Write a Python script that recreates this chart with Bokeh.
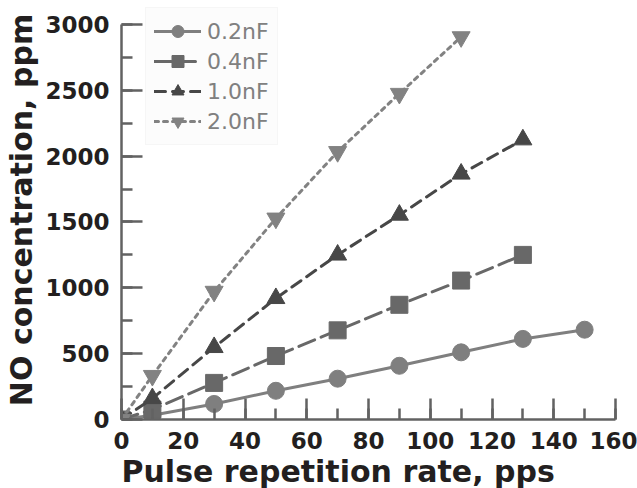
from bokeh.plotting import figure
from bokeh.models import Range1d, Legend, LegendItem, SingleIntervalTicker, Title
from bokeh.embed import file_html
from bokeh.resources import INLINE

# ---- data ----
x_02 = [0, 10, 30, 50, 70, 90, 110, 130, 150]
y_02 = [0, 32, 118, 218, 310, 408, 510, 612, 682]

x_04 = [0, 10, 30, 50, 70, 90, 110, 130]
y_04 = [0, 76, 278, 482, 677, 871, 1055, 1250]

x_10 = [0, 10, 30, 50, 70, 90, 110, 130]
y_10 = [0, 160, 548, 920, 1250, 1553, 1865, 2125]

x_20 = [0, 10, 30, 50, 70, 90, 110]
y_20 = [0, 333, 972, 1528, 2033, 2475, 2905]

labels = ["0.2nF", "0.4nF", "1.0nF", "2.0nF"]
x_ticks_step = 20
y_ticks_step = 500
x_max = 160
y_max = 3000

FONT = "DejaVu Sans"
INK = "#231f20"
AXIS = "#626262"

BOTTOM = 68
FRAME_H = 488 - BOTTOM
TOP_GAP = 24  # pixels between canvas top and the 3000 tick

p = figure(width=637, height=488, output_backend="svg", toolbar_location=None,
           x_range=Range1d(0, x_max),
           y_range=Range1d(0, y_max * FRAME_H / (FRAME_H - TOP_GAP)),
           min_border_left=121, min_border_right=22, min_border_top=0,
           min_border_bottom=BOTTOM)
p.outline_line_color = None
p.xgrid.visible = False
p.ygrid.visible = False

series = [
    (x_02, y_02, "circle", "#7f7f7f", "solid", 17),
    (x_04, y_04, "square", "#686868", "17 7", 17),
    (x_10, y_10, "triangle", "#474747", "11 7", 18),
    (x_20, y_20, "inverted_triangle", "#828282", "4 5", 18),
]

items = []
for (xs, ys, mk, col, dash, sz), lab in zip(series, labels):
    ln = p.line(xs, ys, line_color=col, line_width=3, line_dash=dash, line_cap="round")
    sc = p.scatter(xs, ys, marker=mk, size=sz, fill_color=col, line_color=col)
    items.append(LegendItem(label=lab, renderers=[ln, sc]))

legend = Legend(items=items, location=(24, FRAME_H - 146),
                background_fill_color="#fcfcfc", border_line_color="#f0f0f0",
                label_text_font=FONT, label_text_font_size="22px",
                label_text_color="#808080", glyph_width=47, glyph_height=30,
                label_height=30, spacing=0, padding=8, label_standoff=6,
                margin=0)
p.add_layout(legend)

for ax in (p.xaxis[0], p.yaxis[0]):
    ax.axis_line_color = AXIS
    ax.axis_line_width = 2.5
    ax.major_tick_line_color = AXIS
    ax.minor_tick_line_color = AXIS
    ax.major_tick_line_width = 2.5
    ax.minor_tick_line_width = 2.5
    ax.major_tick_in = 21
    ax.major_tick_out = 0
    ax.minor_tick_in = 11
    ax.minor_tick_out = 0
    ax.major_label_text_font = FONT
    ax.major_label_text_font_style = "bold"
    ax.major_label_text_color = INK
    ax.axis_label_text_font = FONT
    ax.axis_label_text_font_style = "bold"
    ax.axis_label_text_font_size = "30px"
    ax.axis_label_text_color = INK

p.xaxis[0].major_label_text_font_size = "23px"
p.yaxis[0].major_label_text_font_size = "23px"
p.xaxis[0].bounds = (0, x_max)
p.yaxis[0].bounds = (0, y_max)
p.xaxis[0].ticker = SingleIntervalTicker(interval=x_ticks_step, num_minor_ticks=2)
p.yaxis[0].ticker = SingleIntervalTicker(interval=y_ticks_step, num_minor_ticks=2)
p.yaxis[0].axis_label = "NO concentration, ppm"
p.xaxis[0].major_label_standoff = 12
p.yaxis[0].major_label_standoff = 12
p.yaxis[0].axis_label_standoff = 3

xt = Title(text="Pulse repetition rate, pps", align="left", offset=0, standoff=0,
           text_font=FONT, text_font_style="bold", text_font_size="30px",
           text_color=INK)
p.add_layout(xt, "below")

open("out.html", "w").write(file_html(p, INLINE))
